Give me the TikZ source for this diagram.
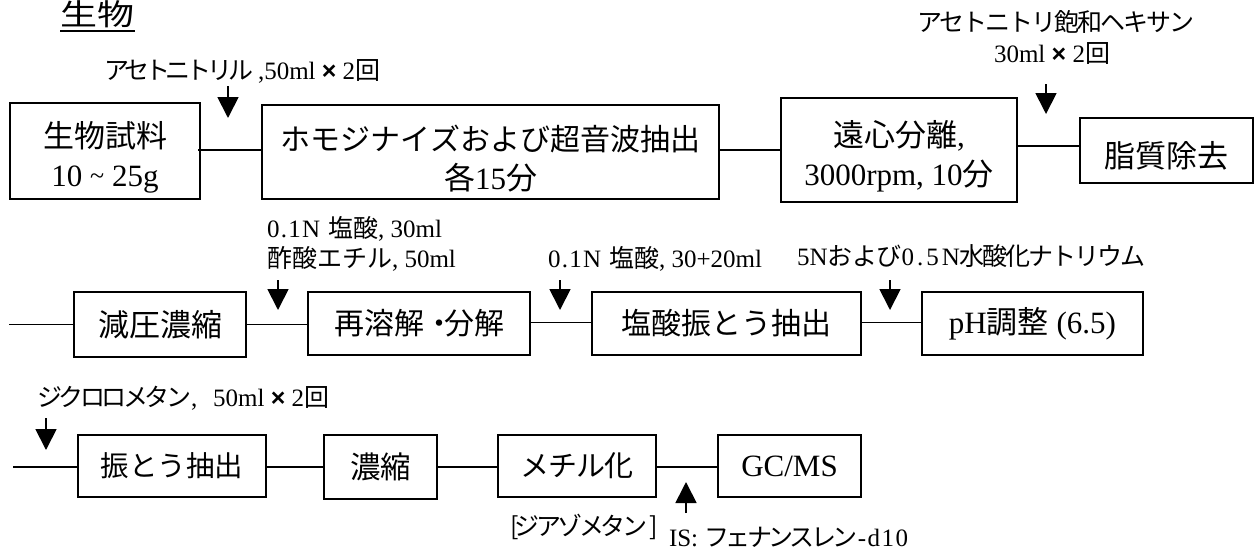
\documentclass[tikz,border=0pt]{standalone}
\usepackage{fontspec}
\setmainfont{Liberation Serif}
\newfontfamily\jpf{Noto Sans CJK JP}
\newfontfamily\xf{Liberation Sans}
\newcommand{\J}[1]{{\jpf #1}}
\newcommand{\K}[2][-14]{{\jpf\addfontfeature{LetterSpace=#1}#2}}
\newcommand{\T}[2][12]{{\addfontfeature{LetterSpace=#1}#2}}
\newcommand{\X}{{\xf\bfseries ×}}
\newcommand{\tp}{\rule{0pt}{39pt}}
\newcommand{\fs}[1]{\fontsize{#1}{#1}\selectfont}
\usetikzlibrary{arrows.meta}
\tikzset{
  x=1pt,y=-1pt,
  proc/.style={draw=black,line width=1.8pt,inner sep=0pt,outer sep=0pt,align=center,font=\fs{31},execute at begin node={\baselineskip=39pt}},
  lbl/.style={inner sep=0pt,outer sep=0pt,anchor=west,font=\fs{25}},
  link/.style={line width=1.8pt},
  reagent/.style={line width=1.8pt,-{Triangle[length=21pt,width=21pt]}}
}
\newcommand{\pbox}[6]{\node[proc,minimum width=#4pt-#2pt,minimum height=#5pt-#3pt] (#1) at ({(#2+#4)/2},{(#3+#5)/2}) {#6};}
\begin{document}
\begin{tikzpicture}
\useasboundingbox (0,0) rectangle (1255,550);
% title
\node[lbl,font=\fs{37}] (title) at (60,14.5) {\scalebox{1}[0.8]{\J{生物}}};
\coordinate (ula) at (60,31); \coordinate (ulb) at (135,31);
\draw[line width=2pt] (ula) -- (ulb);
% row 1
\pbox{a1}{10}{103}{200}{199}{\tp\J{生物試料}\\10 \raisebox{2pt}{\fs{26}\textasciitilde} 25g}
\pbox{a2}{262}{105}{719}{199}{\tp\fs{30}\J{ホモジナイズおよび超音波抽出}\\\J{各}15\J{分}}
\pbox{a3}{781}{98}{1017}{202}{\tp\J{遠心分離},\\3000rpm, 10\J{分}}
\pbox{a4}{1080}{118}{1253}{183}{\rule{0pt}{37pt}\J{脂質除去}}
\draw[link] (198,150) -- (a2.west |- 0,150);
\draw[link] (a2.east |- 0,150) -- (a3.west |- 0,150);
\draw[link] (a3.east |- 0,146) -- (a4.west |- 0,146);
% row 2
\coordinate (s2) at (9,324.5);
\pbox{b1}{74}{292}{246}{357}{\J{減圧濃縮}}
\pbox{b2}{308}{292}{530}{355}{\fs{30}\J{再溶解}\hspace{7pt}\J{\hspace{-6pt}・\hspace{-11pt}}\J{分解}}
\pbox{b3}{592}{292}{861}{355}{\fs{30}\J{塩酸振とう抽出}}
\pbox{b4}{922}{292}{1143}{355}{pH\J{調整} (6.5)}
\draw[link] (s2) -- (b1.west |- s2);
\draw[link] (b1.east |- s2) -- (b2.west |- s2);
\draw[link] (b2.east |- 0,322.5) -- (b3.west |- 0,322.5);
\draw[link] (b3.east |- 0,322.5) -- (b4.west |- 0,322.5);
% row 3
\coordinate (s3) at (13,467);
\pbox{c1}{78}{435}{266}{497}{\fs{28.5}\J{振とう抽出}}
\pbox{c2}{324}{435}{437}{499}{\fs{30.5}\J{濃縮}}
\pbox{c3}{498}{435}{656}{497}{\fs{29}\K[-4]{メチル化}}
\pbox{c4}{718}{435}{861}{497}{GC/MS}
\draw[link] (s3) -- (c1.west |- s3);
\draw[link] (c1.east |- s3) -- (c2.west |- s3);
\draw[link] (c2.east |- s3) -- (c3.west |- s3);
\draw[link] (c3.east |- s3) -- (c4.west |- s3);
% arrows
\coordinate (p1) at (228,86); \coordinate (q1) at (228,118);
\coordinate (p2) at (1046,84); \coordinate (q2) at (1046,114);
\coordinate (p3) at (278,280); \coordinate (q3) at (278,310);
\coordinate (p4) at (560,280); \coordinate (q4) at (560,310);
\coordinate (p5) at (890,280); \coordinate (q5) at (890,310);
\coordinate (p6) at (46,418); \coordinate (q6) at (46,450);
\coordinate (p7) at (686,513); \coordinate (q7) at (686,482);
\foreach \i in {1,...,7}{\draw[reagent] (p\i) -- (q\i);}
% labels
\node[lbl] (l1) at (104,71) {\K[-17]{アセトニトリル}\hspace{5pt},50ml \X{} 2\J{回}};
\node[lbl] (l2) at (917,22) {\K[-8]{アセトニトリ飽和ヘキサン}};
\node[lbl,anchor=center] (l3) at (1052,53) {30ml \X{} 2\J{回}};
\node[lbl] (l4) at (267,229) {\T[5]{0.1N}\hspace{8pt}\J{塩酸}, 30ml};
\node[lbl] (l5) at (267,259) {\J{酢酸エチル}, 50ml};
\node[lbl] (l6) at (548,259) {\T[5]{0.1N}\hspace{8pt}\J{塩酸}, 30+20ml};
\node[lbl] (l7) at (797,256) {5N\K[-2]{および}\T{0.5N}\K[-8]{水酸化ナトリウム}};
\node[lbl] (l8) at (37,398) {\K{ジクロロメタン},\hspace{16pt}50ml \X{} 2\J{回}};
\node[lbl] (l9) at (510,527) {\K{[ジアゾメタン ]}};
\node[lbl] (l10) at (669,537) {IS: \K{フェナンスレン}\T[6]{-d10}};
\end{tikzpicture}
\end{document}
